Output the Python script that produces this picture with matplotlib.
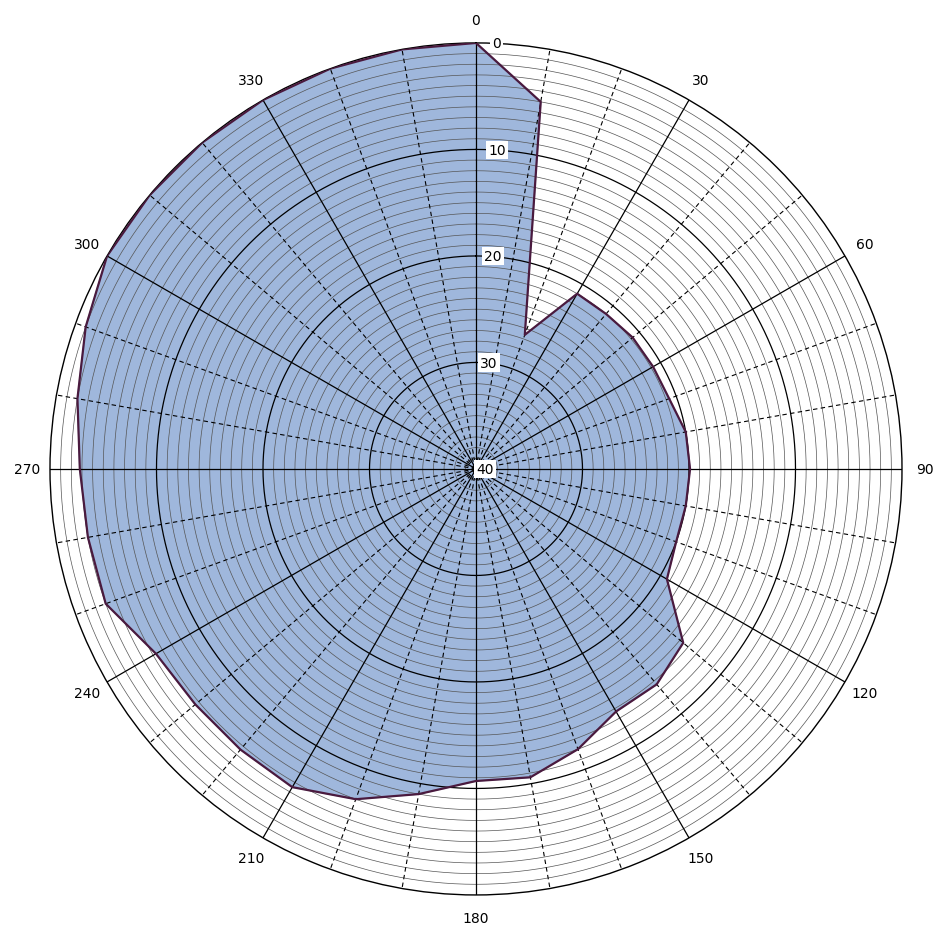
import numpy as np
import matplotlib
matplotlib.use("Agg")
import matplotlib.pyplot as plt

angles_deg = [0,10,20,30,40,50,60,70,80,90,100,110,120,130,140,150,160,170,
              180,190,200,210,220,230,240,250,260,270,280,290,300,310,320,330,340,350]
values = [0,5,26.6,21,21,20.8,20.8,20.7,20,19.9,20,20,19.3,14.6,13.6,13.7,12,10.6,
          10.7,9,7,5.5,5.6,5.6,5.3,3,3,2.8,2,1,0,0,0,0,0,0]
angle_labels = ["0","30","60","90","120","150","180","210","240","270","300","330"]
radial_ticks = [0,10,20,30,40]

fig = plt.figure(figsize=(9.45,9.45), dpi=100)
ax = fig.add_axes([0.0529,0.0519,0.9016,0.9016], projection='polar')
ax.set_theta_zero_location('N')
ax.set_theta_direction(-1)
ax.set_rlim(40, 0)
ax.grid(False)

th = np.deg2rad(angles_deg + [angles_deg[0]])
vv = values + [values[0]]
ax.fill(th, vv, color='#9fb7dc', zorder=1)

tt = np.linspace(0, 2*np.pi, 721)
for r in range(1, 40):
    if r % 10 == 0:
        ax.plot(tt, [r]*len(tt), color='black', lw=0.9, zorder=2)
    else:
        ax.plot(tt, [r]*len(tt), color='#555555', lw=0.5, zorder=2)
for a in range(0, 360, 10):
    t = np.deg2rad(a)
    if a % 30 == 0:
        ax.plot([t,t],[40,0], color='black', lw=0.9, zorder=2)
    else:
        ax.plot([t,t],[40,0], color='black', lw=0.8, ls=(0,(4,3)), zorder=2)
ax.plot(th, vv, color='#4a1a3e', lw=1.6, zorder=3)

ax.spines['polar'].set_color('black')
ax.spines['polar'].set_linewidth(1.0)
ax.set_xticks(np.deg2rad(np.arange(0,360,30)))
ax.set_xticklabels(angle_labels, fontsize=10)
ax.tick_params(axis='x', pad=6)
ax.set_yticks([])
for v in radial_ticks:
    ax.text(np.deg2rad(2.2 if v < 40 else 0), v + (0.0 if v < 40 else 0), str(v),
            fontsize=10, ha='left', va='center', zorder=5,
            bbox=dict(facecolor='white', edgecolor='none', pad=1.5))

fig.savefig('out.png', dpi=100, facecolor='white')
